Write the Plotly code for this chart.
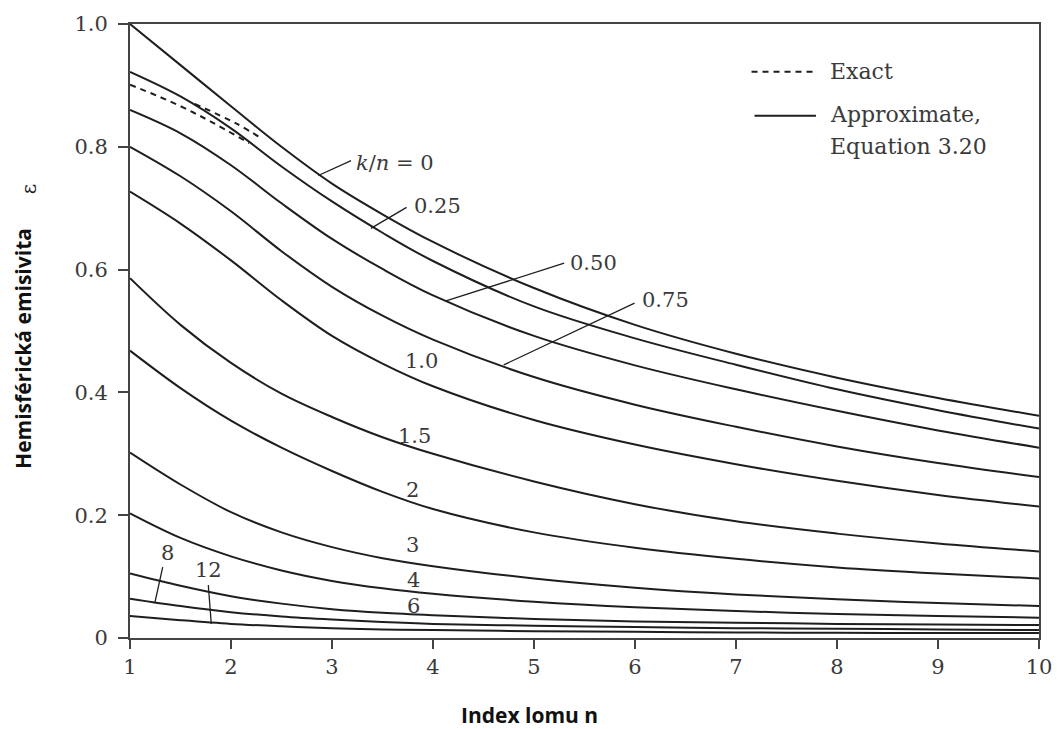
import plotly.graph_objects as go

# ---------------- data ----------------
n_vals = [1, 1.5, 2, 2.5, 3, 3.5, 4, 5, 6, 7, 8, 9, 10]

eps_k0 = [1.000, 0.933, 0.866, 0.800, 0.740, 0.690, 0.645, 0.570, 0.510, 0.463, 0.424, 0.391, 0.362]
eps_k025 = [0.922, 0.882, 0.830, 0.768, 0.711, 0.660, 0.614, 0.540, 0.488, 0.445, 0.405, 0.371, 0.341]
eps_k050 = [0.860, 0.822, 0.770, 0.708, 0.650, 0.601, 0.558, 0.492, 0.444, 0.405, 0.370, 0.338, 0.310]
eps_k075 = [0.800, 0.752, 0.695, 0.630, 0.572, 0.525, 0.486, 0.425, 0.380, 0.344, 0.312, 0.285, 0.262]
eps_k1 = [0.727, 0.675, 0.615, 0.550, 0.492, 0.447, 0.410, 0.355, 0.315, 0.283, 0.256, 0.233, 0.214]
eps_k15 = [0.586, 0.510, 0.448, 0.398, 0.360, 0.327, 0.300, 0.255, 0.218, 0.190, 0.170, 0.154, 0.141]
eps_k2 = [0.468, 0.407, 0.354, 0.310, 0.272, 0.238, 0.210, 0.172, 0.147, 0.129, 0.115, 0.105, 0.097]
eps_k3 = [0.302, 0.250, 0.205, 0.172, 0.148, 0.130, 0.117, 0.097, 0.082, 0.071, 0.063, 0.057, 0.052]
eps_k4 = [0.203, 0.163, 0.133, 0.110, 0.093, 0.081, 0.072, 0.059, 0.050, 0.044, 0.039, 0.036, 0.033]
eps_k6 = [0.105, 0.085, 0.068, 0.056, 0.047, 0.041, 0.037, 0.031, 0.027, 0.025, 0.023, 0.022, 0.021]
eps_k8 = [0.064, 0.052, 0.042, 0.035, 0.030, 0.026, 0.023, 0.020, 0.018, 0.016, 0.015, 0.014, 0.013]
eps_k12 = [0.036, 0.029, 0.023, 0.019, 0.016, 0.014, 0.013, 0.011, 0.010, 0.009, 0.0085, 0.008, 0.008]

approx_series = [eps_k0, eps_k025, eps_k050, eps_k075, eps_k1, eps_k15,
                 eps_k2, eps_k3, eps_k4, eps_k6, eps_k8, eps_k12]
approx_names = ["0", "0.25", "0.50", "0.75", "1.0", "1.5", "2", "3", "4", "6", "8", "12"]

# exact (dashed) solutions
exact_a_n = [1.00, 1.27, 1.54, 1.80, 2.18]
exact_a_eps = [0.901, 0.883, 0.863, 0.841, 0.806]
exact_b_n = [1.64, 2.05, 2.31]
exact_b_eps = [0.870, 0.838, 0.813]

x_ticks = [1, 2, 3, 4, 5, 6, 7, 8, 9, 10]
y_ticks = [0, 0.2, 0.4, 0.6, 0.8, 1.0]
y_ticktext = ["0", "0.2", "0.4", "0.6", "0.8", "1.0"]

# ---------------- figure ----------------
LINE = "#1e1e1e"
TXT = "#3a3a3a"
SERIF = "DejaVu Serif"
SANS = "Open Sans"

fig = go.Figure()
for vals, name in zip(approx_series, approx_names):
    fig.add_trace(go.Scatter(x=n_vals, y=vals, mode="lines", name="k/n=" + name,
                             line=dict(color=LINE, width=2, shape="spline", smoothing=1.0),
                             hoverinfo="skip"))
fig.add_trace(go.Scatter(x=exact_a_n, y=exact_a_eps, mode="lines",
                         line=dict(color=LINE, width=2, dash="6px,5px", shape="spline"),
                         hoverinfo="skip"))
fig.add_trace(go.Scatter(x=exact_b_n, y=exact_b_eps, mode="lines",
                         line=dict(color=LINE, width=2, dash="6px,5px", shape="spline"),
                         hoverinfo="skip"))

# plot-area geometry (pixels) for placing decorations
L, R, T, B = 130, 1047, 22, 638


def nx(px):
    return 1 + (px - L) * 9 / (R - L)


def vy(py):
    return (B - py) / (B - T)


annotations = []
shapes = []


def label(text, px, py, anchor="center", size=21):
    annotations.append(dict(x=nx(px), y=vy(py), xref="x", yref="y", text=text,
                            showarrow=False, xanchor=anchor, yanchor="middle",
                            font=dict(family=SERIF, size=size, color=TXT)))


def leader(p0, p1):
    shapes.append(dict(type="line", xref="x", yref="y",
                       x0=nx(p0[0]), y0=vy(p0[1]), x1=nx(p1[0]), y1=vy(p1[1]),
                       line=dict(color=LINE, width=1.3)))


label("<i>k</i>/<i>n</i> = 0", 356, 161, anchor="left")
leader((320, 174), (353, 159))
label("0.25", 414, 205, anchor="left")
leader((373, 227), (409, 206))
label("0.50", 572, 262, anchor="left")
leader((448, 300), (568, 262))
label("0.75", 644, 299, anchor="left")
leader((507, 364), (639, 302))
label("1.0", 424, 360)
label("1.5", 417, 435)
label("2", 415, 490)
label("3", 415, 545)
label("4", 416, 580)
label("6", 416, 606)
label("8", 168, 553)
leader((163, 567), (155, 603))
label("12", 209, 570)
leader((209, 585), (212, 624))

# legend (drawn by hand to match the figure)
shapes.append(dict(type="line", xref="x", yref="y", x0=nx(757), y0=vy(70), x1=nx(822), y1=vy(70),
                   line=dict(color=LINE, width=2, dash="6px,5px")))
shapes.append(dict(type="line", xref="x", yref="y", x0=nx(760), y0=vy(114), x1=nx(822), y1=vy(114),
                   line=dict(color=LINE, width=2)))
label("Exact", 834, 70, anchor="left", size=22)
label("Approximate,", 834, 113, anchor="left", size=22)
label("Equation 3.20", 834, 145, anchor="left", size=22)

# axis titles
annotations.append(dict(x=(533 - L) / (R - L), y=(B - 715) / (B - T), xref="paper", yref="paper",
                        text="<b>Index lomu n</b>", showarrow=False, xanchor="center", yanchor="middle",
                        font=dict(family=SANS, size=21, color="#111")))
annotations.append(dict(x=(22 - L) / (R - L), y=(B - 347) / (B - T), xref="paper", yref="paper",
                        text="<b>Hemisférická emisivita</b>", showarrow=False, textangle=-90,
                        xanchor="center", yanchor="middle",
                        font=dict(family=SANS, size=21, color="#111")))
annotations.append(dict(x=(29 - L) / (R - L), y=(B - 188) / (B - T), xref="paper", yref="paper",
                        text="ε", showarrow=False, textangle=-90,
                        xanchor="center", yanchor="middle",
                        font=dict(family=SERIF, size=20, color="#222")))

fig.update_layout(
    width=1064, height=729,
    margin=dict(l=L, r=1064 - R, t=T, b=729 - B),
    paper_bgcolor="white", plot_bgcolor="white",
    showlegend=False,
    annotations=annotations, shapes=shapes,
    xaxis=dict(range=[1, 10], tickvals=x_ticks, ticks="outside", ticklen=9, tickwidth=1.5,
               tickcolor="#444", showline=True, linecolor="#444", linewidth=2, mirror=True,
               showgrid=False, zeroline=False,
               tickfont=dict(family=SERIF, size=21, color=TXT)),
    yaxis=dict(range=[0, 1], tickvals=y_ticks, ticktext=y_ticktext, ticks="outside", ticklen=10,
               tickwidth=1.5, tickcolor="#444", showline=True, linecolor="#444", linewidth=2,
               mirror=True, showgrid=False, zeroline=False, ticklabelstandoff=6,
               tickfont=dict(family=SERIF, size=21, color=TXT)),
)

fig.write_html("out.html")
